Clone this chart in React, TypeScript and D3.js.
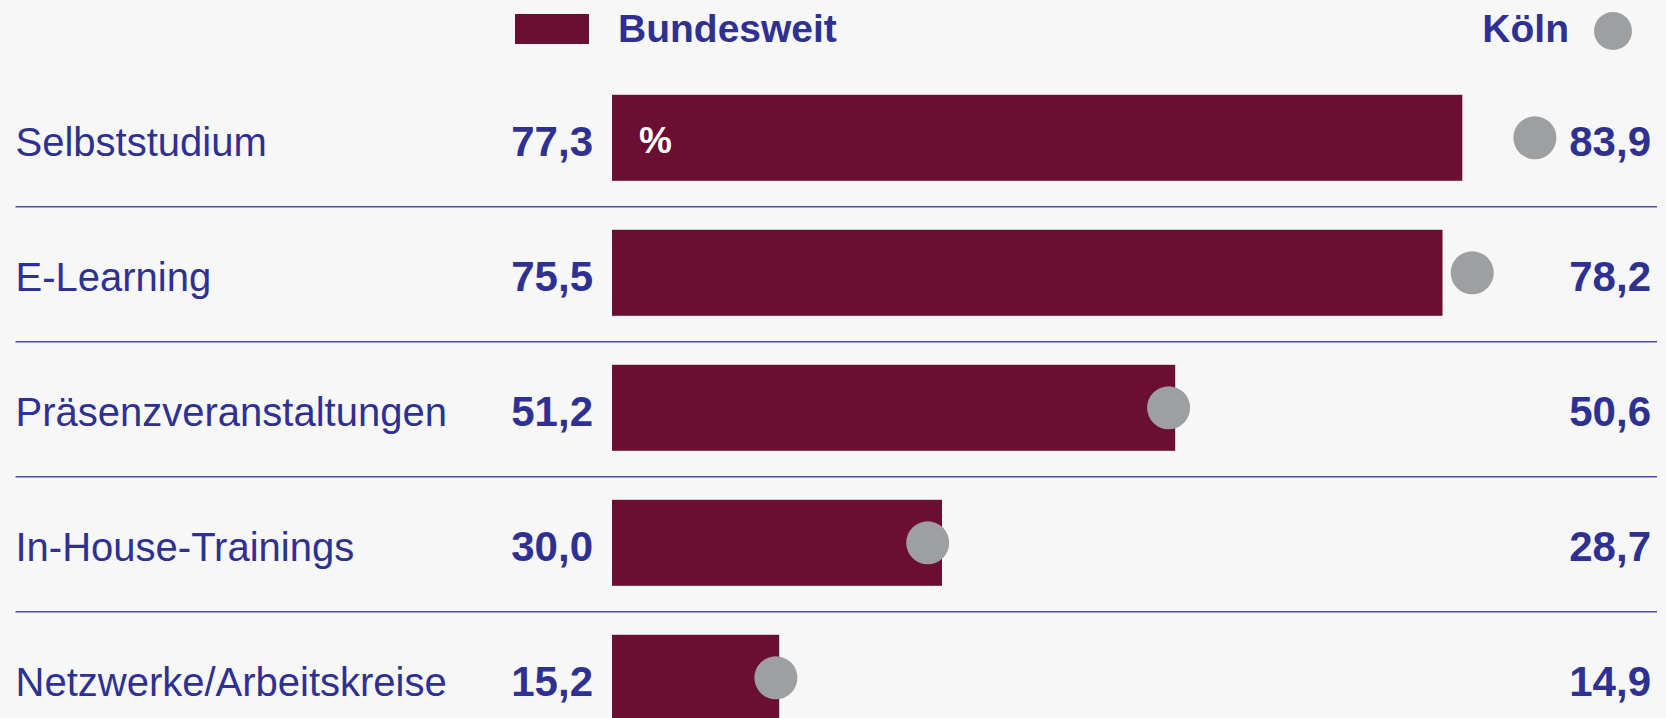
import React from "react";
import * as d3 from "d3";

const categories = [
  "Selbststudium",
  "E-Learning",
  "Präsenzveranstaltungen",
  "In-House-Trainings",
  "Netzwerke/Arbeitskreise",
];
const bundesweit = [77.3, 75.5, 51.2, 30.0, 15.2];
const koeln = [83.9, 78.2, 50.6, 28.7, 14.9];
const legendLabels = ["Bundesweit", "Köln"];
const unitLabel = "%";

const W = 1666;
const H = 718;
const NAVY = "#2e3192";
const BAR = "#6a0e32";
const DOT = "#9d9fa0";
const BG = "#f7f7f7";
const LINE = "#4a4fa0";
const FONT = "'Liberation Sans', Arial, Helvetica, sans-serif";

const fmt = (v: number) => v.toFixed(1).replace(".", ",");

export default function App() {
  const x = d3.scaleLinear().domain([0, 100]).range([612, 1712]);
  const y = d3
    .scalePoint<string>()
    .domain(categories)
    .range([137.8, 137.8 + 135 * (categories.length - 1)]);
  const barH = 86;
  const step = y.step();

  return (
    <svg
      width={W}
      height={H}
      style={{ position: "absolute", left: 0, top: 0, display: "block" }}
      fontFamily={FONT}
    >
      <rect x={0} y={0} width={W} height={H} fill={BG} />
      {/* legend */}
      <rect x={515} y={14} width={74} height={30} fill={BAR} />
      <text x={618} y={42} fontSize={39} fontWeight="bold" fill={NAVY}>
        {legendLabels[0]}
      </text>
      <text x={1569} y={42} fontSize={39} fontWeight="bold" fill={NAVY} textAnchor="end">
        {legendLabels[1]}
      </text>
      <circle cx={1613} cy={31} r={19} fill={DOT} />

      {/* separators */}
      {categories.slice(0, categories.length - 1).map((c) => (
        <line
          key={"sep" + c}
          x1={15.5}
          x2={1657}
          y1={(y(c) as number) + step / 2 + 1.5}
          y2={(y(c) as number) + step / 2 + 1.5}
          stroke={LINE}
          strokeWidth={1.5}
        />
      ))}

      {categories.map((c, i) => {
        const cy = y(c) as number;
        return (
          <g key={c}>
            <text x={15.5} y={cy + 18} fontSize={40} fill={NAVY}>
              {c}
            </text>
            <text x={593} y={cy + 18} fontSize={42} fontWeight="bold" fill={NAVY} textAnchor="end">
              {fmt(bundesweit[i])}
            </text>
            <rect
              x={x(0)}
              y={cy - barH / 2}
              width={x(bundesweit[i]) - x(0)}
              height={barH}
              fill={BAR}
            />
            {i === 0 && (
              <text x={639} y={cy + 15.5} fontSize={37} fontWeight="bold" fill="#ffffff">
                {unitLabel}
              </text>
            )}
            <circle cx={x(koeln[i])} cy={cy} r={21.5} fill={DOT} />
            <text x={1651} y={cy + 18} fontSize={42} fontWeight="bold" fill={NAVY} textAnchor="end">
              {fmt(koeln[i])}
            </text>
          </g>
        );
      })}
    </svg>
  );
}
